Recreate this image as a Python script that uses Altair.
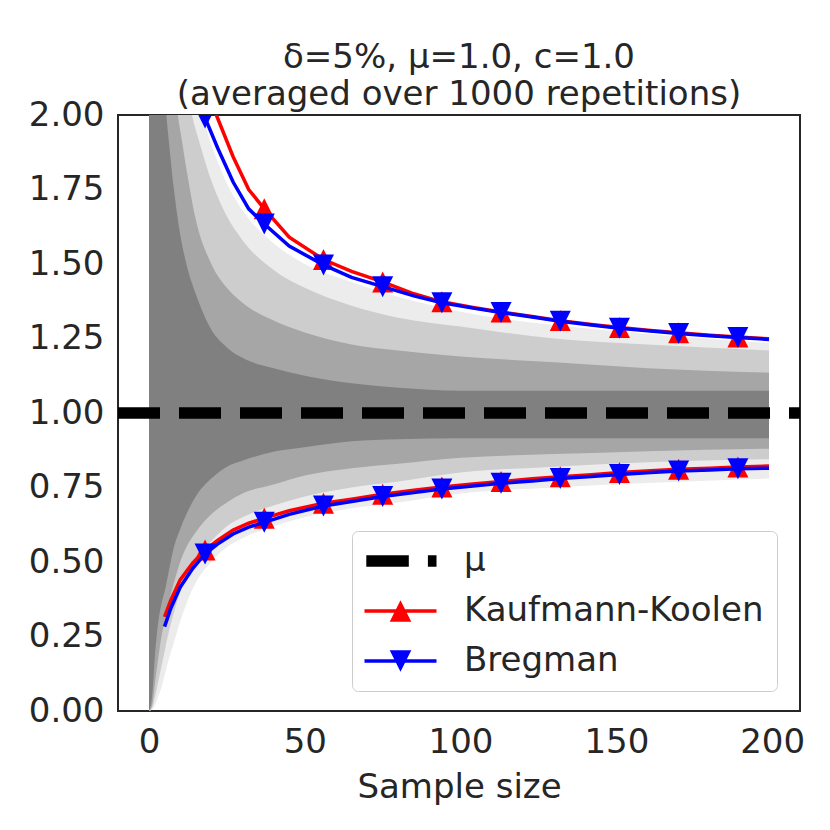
import altair as alt
import pandas as pd

# ---------------- data ----------------
# gray cloud of the 1000 running means, summarised as nested envelopes
band_x = [0, 1, 2, 3, 4, 5, 6, 8, 10, 12, 15, 20, 25, 30, 40, 50, 65, 80, 100, 130, 160, 199]
faint_hi = [2.05, 2.05, 2.05, 2.05, 2.05, 2.05, 2.05, 2.05, 2.05, 2.05, 2.05,
            1.9, 1.77, 1.68, 1.57, 1.5, 1.44, 1.39, 1.34, 1.295, 1.265, 1.235]
faint_lo = [0.0, 0.005, 0.02, 0.05, 0.08, 0.12, 0.16, 0.23, 0.3, 0.36, 0.43,
            0.5, 0.55, 0.58, 0.62, 0.65, 0.68, 0.7, 0.73, 0.75, 0.765, 0.78]
light_hi = [2.05, 2.05, 2.05, 2.05, 2.05, 2.05, 2.05, 2.05, 2.05, 2.05, 1.95,
            1.78, 1.66, 1.58, 1.48, 1.42, 1.36, 1.32, 1.29, 1.25, 1.23, 1.21]
light_lo = [0.0, 0.01, 0.05, 0.1, 0.15, 0.2, 0.25, 0.33, 0.4, 0.45, 0.51,
            0.57, 0.62, 0.65, 0.69, 0.72, 0.75, 0.77, 0.8, 0.82, 0.835, 0.845]
mid_hi = [2.05, 2.05, 2.05, 2.05, 2.05, 2.05, 2.05, 2.05, 1.95, 1.82, 1.65,
          1.5, 1.42, 1.37, 1.31, 1.27, 1.23, 1.21, 1.19, 1.17, 1.15, 1.135]
mid_lo = [0.0, 0.02, 0.1, 0.18, 0.25, 0.3, 0.35, 0.43, 0.5, 0.55, 0.6,
          0.66, 0.7, 0.73, 0.76, 0.79, 0.815, 0.83, 0.85, 0.862, 0.872, 0.88]
core_hi = [2.05, 2.05, 2.05, 2.05, 2.05, 2.05, 1.95, 1.75, 1.6, 1.5, 1.4,
           1.28, 1.22, 1.185, 1.15, 1.125, 1.1, 1.085, 1.075, 1.075, 1.075, 1.075]
core_lo = [0.0, 0.05, 0.2, 0.3, 0.36, 0.4, 0.45, 0.55, 0.61, 0.66, 0.72,
           0.78, 0.82, 0.84, 0.87, 0.885, 0.905, 0.912, 0.915, 0.915, 0.915, 0.915]

mu_value = [1.0]

curve_x = [5, 7, 10, 14, 18, 22, 27, 32, 37, 45, 56, 65, 75, 85, 94, 104, 113,
           123, 132, 142, 151, 161, 170, 180, 189, 199]
kk_upper = [None, None, None, 2.25, 2.09, 1.99, 1.86, 1.75, 1.685, 1.59, 1.515,
            1.475, 1.44, 1.40, 1.373, 1.354, 1.339, 1.324, 1.31, 1.297, 1.287,
            1.277, 1.269, 1.261, 1.255, 1.249]
kk_lower = [0.316, 0.372, 0.44, 0.496, 0.54, 0.572, 0.607, 0.63, 0.647, 0.672,
            0.697, 0.711, 0.727, 0.741, 0.752, 0.762, 0.77, 0.779, 0.786, 0.793,
            0.8, 0.806, 0.811, 0.815, 0.819, 0.822]
br_upper = [None, None, None, 2.13, 1.99, 1.89, 1.775, 1.685, 1.634, 1.56, 1.497,
            1.455, 1.424, 1.393, 1.37, 1.352, 1.337, 1.322, 1.308, 1.295, 1.284,
            1.275, 1.267, 1.259, 1.253, 1.247]
br_lower = [0.283, 0.345, 0.415, 0.478, 0.527, 0.56, 0.594, 0.617, 0.633, 0.66,
            0.688, 0.703, 0.72, 0.733, 0.745, 0.755, 0.764, 0.772, 0.78, 0.787,
            0.794, 0.8, 0.805, 0.809, 0.813, 0.815]
marker_x = [18, 37, 56, 75, 94, 113, 132, 151, 170, 189]

legend_labels = ["μ", "Kaufmann-Koolen", "Bregman"]
x_ticks = [0, 50, 100, 150, 200]
y_ticks = [0.0, 0.25, 0.5, 0.75, 1.0, 1.25, 1.5, 1.75, 2.0]

# ---------------- styling ----------------
TEXT = "#262626"
FONT = "DejaVu Sans"
TRI_UP = "M0,-1L1,1L-1,1Z"
TRI_DOWN = "M-1,-1L1,-1L0,1Z"
# legend glyphs (10 px per unit with symbolSize 400)
LEG_MU = "M-1.57,-0.58H2.68V0.58H-1.57Z M4.59,-0.58H5.45V0.58H4.59Z"
LEG_KK = "M-1.75,-0.18H5.45V0.18H-1.75Z M1.85,-1.08L2.93,1.08L0.77,1.08Z"
LEG_BR = "M-1.75,-0.18H5.45V0.18H-1.75Z M0.77,-1.08L2.93,-1.08L1.85,1.08Z"

xscale = alt.Scale(domain=[-9.95, 208.95], nice=False, zero=False)
yscale = alt.Scale(domain=[0, 2], nice=False)
xaxis = alt.Axis(values=x_ticks, title="Sample size", format="d", labelPadding=14,
                 titlePadding=11)
yaxis = alt.Axis(values=y_ticks, title=None, format=".2f", labelPadding=14)

# ---------------- layers ----------------
bands = []
for lo, hi, col in [(faint_lo, faint_hi, "#ececec"), (light_lo, light_hi, "#cdcdcd"),
                    (mid_lo, mid_hi, "#a6a6a6"), (core_lo, core_hi, "#808080")]:
    df = pd.DataFrame({"x": band_x, "lo": lo, "hi": hi})
    bands.append(
        alt.Chart(df).mark_area(color=col, opacity=1, clip=True, interpolate="monotone").encode(
            x=alt.X("x:Q", scale=xscale, axis=xaxis),
            y=alt.Y("lo:Q", scale=yscale, axis=yaxis),
            y2="hi:Q",
        )
    )

mu_rule = alt.Chart(pd.DataFrame({"mu": mu_value})).mark_rule(
    color="black", strokeWidth=11.5, strokeDash=[42, 19], strokeCap="butt"
).encode(y=alt.Y("mu:Q", scale=yscale), x=alt.value(0), x2=alt.value(682))

rows = []
for method, up, low in [("Kaufmann-Koolen", kk_upper, kk_lower), ("Bregman", br_upper, br_lower)]:
    for bound, vals in [("upper", up), ("lower", low)]:
        for xv, yv in zip(curve_x, vals):
            rows.append({"method": method, "bound": bound, "x": xv, "y": yv})
curves = pd.DataFrame(rows)


def method_layers(method, color, shape):
    base = alt.Chart(curves).transform_filter(alt.datum.method == method).transform_filter(
        "isValid(datum.y)")
    line = base.mark_line(color=color, strokeWidth=3.5, clip=True).encode(
        x=alt.X("x:Q", scale=xscale), y=alt.Y("y:Q", scale=yscale), detail="bound:N"
    )
    pts = base.transform_filter(alt.FieldOneOfPredicate(field="x", oneOf=marker_x)).mark_point(
        filled=True, shape=shape, size=441, color=color, opacity=1, strokeWidth=0, clip=True
    ).encode(x=alt.X("x:Q", scale=xscale), y=alt.Y("y:Q", scale=yscale))
    return [line, pts]


legend_df = pd.DataFrame({"series": legend_labels, "x": [None, None, None], "y": [None, None, None]})
leg = alt.Legend(title=None, orient="none", legendX=234, legendY=416, symbolSize=400,
                 symbolStrokeWidth=0, symbolOpacity=1, labelOffset=65, rowPadding=16,
                 padding=13, labelFontSize=34, labelFont=FONT, labelColor=TEXT,
                 strokeColor="#cccccc", fillColor="white", cornerRadius=6, labelLimit=0)
legend_layer = alt.Chart(legend_df).mark_point(filled=True, opacity=1).encode(
    x=alt.X("x:Q", scale=xscale),
    y=alt.Y("y:Q", scale=yscale),
    color=alt.Color("series:N", scale=alt.Scale(domain=legend_labels,
                                                range=["#000000", "#ff0000", "#0000ff"]),
                    legend=leg),
    shape=alt.Shape("series:N", scale=alt.Scale(domain=legend_labels,
                                                range=[LEG_MU, LEG_KK, LEG_BR]),
                    legend=leg),
)

chart = alt.layer(
    *bands, mu_rule,
    *method_layers("Kaufmann-Koolen", "#ff0000", TRI_UP),
    *method_layers("Bregman", "#0000ff", TRI_DOWN),
    legend_layer,
).properties(
    width=682, height=596,
    background="white",
    autosize=alt.AutoSizeParams(type="none"),
    padding={"left": 110, "top": 107, "right": 22, "bottom": 100},
    title=alt.TitleParams(text=["δ=5%, μ=1.0, c=1.0", "(averaged over 1000 repetitions)"],
                          fontSize=34, font=FONT, fontWeight="normal", color=TEXT,
                          anchor="middle", lineHeight=37, offset=-14),
).configure_view(stroke=TEXT, strokeWidth=2).configure_axis(
    labelFont=FONT, labelFontSize=34, labelColor=TEXT, titleFont=FONT, titleFontSize=34,
    titleColor=TEXT, titleFontWeight="normal", ticks=False, tickSize=0, domain=False, grid=False,
)

chart.save("out.html", embed_options={"renderer": "svg", "actions": False})
